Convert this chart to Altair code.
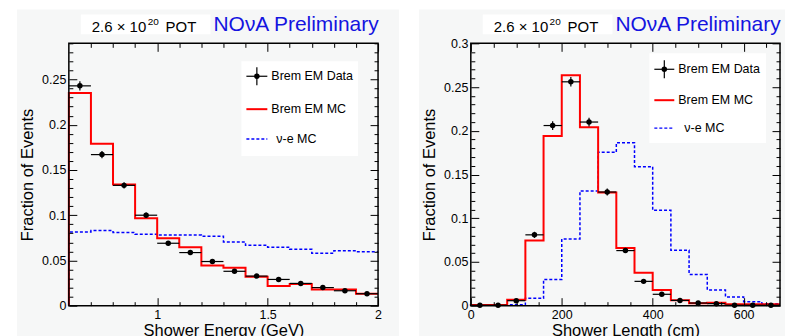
import altair as alt
import pandas as pd

FONT = "Liberation Sans"
BG = "#f6f7f7"
BLUE_TXT = "#1414e0"

# ---------------- data: left panel (shower energy) ----------------
energy_edges = [0.6, 0.7, 0.8, 0.9, 1.0, 1.1, 1.2, 1.3, 1.4, 1.5, 1.6, 1.7, 1.8, 1.9, 2.0]
energy_data = [0.243, 0.167, 0.133, 0.100, 0.069, 0.0587, 0.0488, 0.038, 0.0327, 0.029, 0.0246, 0.020, 0.0165, 0.0132]
energy_data_err = [0.005, 0.004, 0.0035, 0.003, 0.0025, 0.0024, 0.0022, 0.002, 0.0018, 0.0017, 0.0016, 0.0015, 0.0014, 0.0013]
energy_brem_mc = [0.235, 0.179, 0.134, 0.0966, 0.0746, 0.0646, 0.0444, 0.042, 0.032, 0.0217, 0.0239, 0.018, 0.018, 0.0132]
energy_nue_mc = [0.0815, 0.083, 0.0808, 0.079, 0.078, 0.078, 0.0767, 0.0705, 0.0668, 0.0646, 0.0624, 0.058, 0.0606, 0.0595]

# ---------------- data: right panel (shower length) ----------------
length_edges = [0, 40, 80, 120, 160, 200, 240, 280, 320, 360, 400, 440, 480, 520, 560, 600, 640, 680]
length_data = [0.0005, 0.0005, 0.0057, 0.081, 0.206, 0.256, 0.210, 0.130, 0.063, 0.0278, 0.013, 0.006, 0.003, 0.0023, 0.0005, 0.0005, 0.0005]
length_data_err = [0.0005, 0.0005, 0.0012, 0.0035, 0.005, 0.0055, 0.005, 0.004, 0.0028, 0.0018, 0.0013, 0.0009, 0.0006, 0.0005, 0.0003, 0.0003, 0.0003]
length_brem_mc = [0.0007, 0.0007, 0.0068, 0.0745, 0.194, 0.2635, 0.204, 0.1295, 0.066, 0.0376, 0.0179, 0.0061, 0.0027, 0.0034, 0.0016, 0.0016, 0.0016]
length_nue_mc = [0.0005, 0.0005, 0.001, 0.0084, 0.030, 0.0763, 0.131, 0.1754, 0.1864, 0.159, 0.109, 0.0634, 0.0357, 0.0179, 0.0099, 0.0046, 0.0023]

# ---------------- ticks / labels ----------------
energy_x_major = [1.0, 1.5, 2.0]
energy_x_minor = [0.7, 0.8, 0.9, 1.1, 1.2, 1.3, 1.4, 1.6, 1.7, 1.8, 1.9]
energy_y_major = [0, 0.05, 0.1, 0.15, 0.2, 0.25]
length_x_major = [0, 200, 400, 600]
length_x_minor = [50, 100, 150, 250, 300, 350, 450, 500, 550, 650]
length_y_major = [0, 0.05, 0.1, 0.15, 0.2, 0.25, 0.3]
y_minor = [round(i * 0.01, 2) for i in range(0, 31) if i % 5 != 0]

legend_labels = ["Brem EM Data", "Brem EM MC", "\u03bd-e MC"]
pot_text = ["2.6 \u00d7 10", "20", "POT"]
nova_text = "NO\u03bdA Preliminary"
y_title = "Fraction of Events"
energy_x_title = "Shower Energy (GeV)"
length_x_title = "Shower Length (cm)"

W, H = 310, 263
MAJ, MIN = 8, 4


def hist_df(edges, vals):
    xs = [edges[0]] + list(edges[:-1]) + [edges[-1]]
    ys = [0] + list(vals) + [vals[-1]]
    return pd.DataFrame({"x": xs, "y": ys, "i": list(range(len(xs)))})


def points_df(edges, vals, errs):
    return pd.DataFrame({
        "c": [(edges[i] + edges[i + 1]) / 2 for i in range(len(vals))],
        "lo": edges[:-1],
        "hi": edges[1:],
        "v": vals,
        "vlo": [v - e for v, e in zip(vals, errs)],
        "vhi": [v + e for v, e in zip(vals, errs)],
    })


def axis(orient, values, size, labels=False, fmt=None, title=None, title_pad=0):
    p = dict(orient=orient, values=values, tickSize=size, offset=-size, domain=False,
             grid=False, labels=labels, ticks=True, tickColor="black", tickWidth=1,
             zindex=1, title=title)
    if labels:
        p.update(format=fmt, labelFontSize=12.5, labelFont=FONT, labelColor="black",
                 labelPadding=3, labelFlush=False, labelOverlap=False)
    if title:
        p.update(titleFont=FONT, titleFontSize=16.5, titleFontWeight="normal",
                 titleColor="black", titlePadding=title_pad)
    return alt.Axis(**p)


def panel(edges, data, err, brem, nue, xdom, ydom, xmaj, xmin, ymaj, xfmt, xtitle, bgx2, leg):
    one = pd.DataFrame({"k": [0]})
    xs = alt.Scale(domain=xdom, nice=False, zero=False)
    ys = alt.Scale(domain=ydom, nice=False, zero=False)
    base1 = alt.Chart(one)

    bg = base1.mark_rect(color=BG).encode(
        x=alt.value(-52), x2=alt.value(bgx2), y=alt.value(-34), y2=alt.value(300))
    potbox = base1.mark_rect(color="white").encode(
        x=alt.value(12), x2=alt.value(142), y=alt.value(-29), y2=alt.value(-9))
    t1 = base1.mark_text(align="left", baseline="alphabetic", font=FONT, fontSize=15,
                         color="black", text=pot_text[0]).encode(x=alt.value(23), y=alt.value(-11))
    t2 = base1.mark_text(align="left", baseline="alphabetic", font=FONT, fontSize=10,
                         color="black", text=pot_text[1]).encode(x=alt.value(79), y=alt.value(-18))
    t3 = base1.mark_text(align="left", baseline="alphabetic", font=FONT, fontSize=15,
                         color="black", text=pot_text[2]).encode(x=alt.value(97), y=alt.value(-11))
    t4 = base1.mark_text(align="left", baseline="alphabetic", font=FONT, fontSize=21,
                         color=BLUE_TXT, text=nova_text).encode(x=alt.value(145), y=alt.value(-12))

    blue = alt.Chart(hist_df(edges, nue)).mark_line(
        interpolate="step-after", color="#0000ff", strokeWidth=1.5, strokeDash=[3, 2]).encode(
        x=alt.X("x:Q", scale=xs, axis=axis("bottom", xmin, MIN)),
        y=alt.Y("y:Q", scale=ys, axis=axis("left", y_minor, MIN)),
        order="i:Q")
    red = alt.Chart(hist_df(edges, brem)).mark_line(
        interpolate="step-after", color="#ff0000", strokeWidth=2).encode(
        x=alt.X("x:Q", scale=xs, axis=axis("bottom", xmaj, MAJ, True, xfmt, xtitle, 1)),
        y=alt.Y("y:Q", scale=ys, axis=axis("left", ymaj, MAJ, True, "~g", y_title, 6)),
        order="i:Q")
    pdf = points_df(edges, data, err)
    xerr = alt.Chart(pdf).mark_rule(color="black", strokeWidth=1.2).encode(
        x=alt.X("lo:Q", scale=xs, axis=axis("top", xmin, MIN)), x2="hi:Q",
        y=alt.Y("v:Q", scale=ys, axis=axis("right", y_minor, MIN)))
    yerr = alt.Chart(pdf).mark_rule(color="black", strokeWidth=1.2).encode(
        x=alt.X("c:Q", scale=xs, axis=None),
        y=alt.Y("vlo:Q", scale=ys, axis=None), y2="vhi:Q")
    pts = alt.Chart(pdf).mark_point(filled=True, size=30, color="black", opacity=1).encode(
        x=alt.X("c:Q", scale=xs, axis=axis("top", xmaj, MAJ)),
        y=alt.Y("v:Q", scale=ys, axis=axis("right", ymaj, MAJ)))

    bx1, bx2, by1, by2, r1, r2, r3, s1, s2, tx, tx3 = leg
    sc = (s1 + s2) / 2
    lbox = base1.mark_rect(color="white").encode(
        x=alt.value(bx1), x2=alt.value(bx2), y=alt.value(by1), y2=alt.value(by2))
    l1 = base1.mark_rule(color="black", strokeWidth=1.2).encode(
        x=alt.value(s1), x2=alt.value(s2), y=alt.value(r1))
    l1v = base1.mark_rule(color="black", strokeWidth=1.2).encode(
        x=alt.value(sc), y=alt.value(r1 - 9), y2=alt.value(r1 + 9))
    l1p = base1.mark_point(filled=True, size=30, color="black", opacity=1).encode(
        x=alt.value(sc), y=alt.value(r1))
    l2 = base1.mark_rule(color="#ff0000", strokeWidth=2).encode(
        x=alt.value(s1), x2=alt.value(s2), y=alt.value(r2))
    l3 = base1.mark_rule(color="#0000ff", strokeWidth=1.5, strokeDash=[3, 2]).encode(
        x=alt.value(s1), x2=alt.value(s2), y=alt.value(r3))
    lt = []
    for lab, yy, xx in zip(legend_labels, [r1, r2, r3], [tx, tx, tx3]):
        lt.append(base1.mark_text(align="left", baseline="middle", font=FONT, fontSize=12.5,
                                  color="black", text=lab).encode(x=alt.value(xx), y=alt.value(yy)))
    frame = base1.mark_rect(fillOpacity=0, stroke="black", strokeWidth=1.5).encode(
        x=alt.value(0), x2=alt.value(W), y=alt.value(0), y2=alt.value(H))

    return alt.layer(bg, potbox, t1, t2, t3, t4, blue, red, xerr, yerr, pts,
                     lbox, l1, l1v, l1p, l2, l3, *lt, frame).resolve_axis(
        x="independent", y="independent").properties(width=W, height=H)


left = panel(energy_edges, energy_data, energy_data_err, energy_brem_mc, energy_nue_mc,
             [0.6, 2.0], [0, 0.29], energy_x_major, energy_x_minor, energy_y_major, "~g",
             energy_x_title, 331,
             (173, 290, 18, 113, 33, 66, 96, 178, 199, 203, 208))
right = panel(length_edges, length_data, length_data_err, length_brem_mc, length_nue_mc,
              [0, 680], [0, 0.3], length_x_major, length_x_minor, length_y_major, "d",
              length_x_title, 315,
              (179, 296, 10, 100, 26, 57, 85, 184, 204, 208, 214))

chart = alt.hconcat(left, right, spacing=93, bounds="flush").properties(
    padding={"left": 8, "top": 0, "right": 0, "bottom": 0}
).configure_view(stroke=None).configure(background="white", font=FONT)

chart.save("out.html", embed_options={"renderer": "svg", "actions": False})
